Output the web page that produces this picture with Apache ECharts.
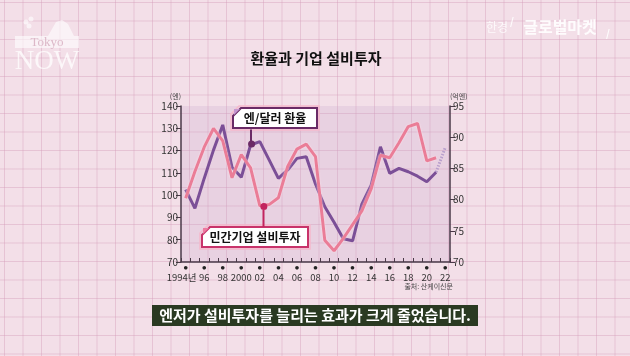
<!DOCTYPE html>
<html>
<head>
<meta charset="utf-8">
<script src="https://cdn.jsdelivr.net/npm/echarts@6/dist/echarts.min.js"></script>
<style>
html,body{margin:0;padding:0;}
body{
  width:630px;height:356px;overflow:hidden;
  background-color:#f3dfe8;
  background-image:
    linear-gradient(to right, rgba(214,160,188,0.45) 1px, transparent 1px),
    linear-gradient(to bottom, rgba(214,160,188,0.45) 1px, transparent 1px);
  background-size:18.5px 18.5px;
  background-position:4px 2px;
}
#c{width:630px;height:356px;}
</style>
</head>
<body>
<div id="c"></div>
<script>
const years = ['1994','1995','1996','1997','1998','1999','2000','2001','2002','2003','2004','2005','2006','2007','2008','2009','2010','2011','2012','2013','2014','2015','2016','2017','2018','2019','2020','2021','2022'];
const yearLabels = {'1994':'1994년','2000':'2000'};
const yenPerDollar = [102.5,94.1,107.5,120.2,131.5,112.5,108.0,122.5,124.0,115.8,107.5,111.3,116.5,117.2,105.0,94.8,87.8,80.4,79.5,96.0,104.5,121.7,109.8,112.0,110.5,108.5,106.0,110.3,null];
const yenProjection = [null,null,null,null,null,null,null,null,null,null,null,null,null,null,null,null,null,null,null,null,null,null,null,null,null,null,null,110.3,121.5];
const investment = [80.2,84.5,88.4,91.4,89.4,83.5,87.2,85.1,79.0,79.2,80.3,85.3,88.1,88.9,86.9,73.5,71.8,73.8,76.0,78.2,81.7,87.1,86.7,89.1,91.7,92.2,86.2,86.7,null];
const leftTicks = {min:70,max:140,interval:10};
const rightTicks = {min:70,max:95,interval:5};

const FONT = '"Noto Sans CJK KR","Noto Sans",sans-serif';
const chart = echarts.init(document.getElementById('c'), null, {renderer:'canvas'});

function box(x,y,w,h,border,accent,label){
  const c = 8;
  return {
    type:'group', z:100,
    children:[
      {type:'polygon', shape:{points:[[x+c-2,y-2],[x+w+2,y-2],[x+w+2,y+h+2],[x-2,y+h+2],[x-2,y+c-2]]},
        style:{fill:'none',stroke:'#f6b9cc',lineWidth:1.5}},
      {type:'polygon', shape:{points:[[x+c,y],[x+w,y],[x+w,y+h],[x,y+h],[x,y+c]]},
        style:{fill:'#ffffff',stroke:border,lineWidth:2}},
      {type:'polygon', shape:{points:[[x+1,y+1],[x+c-1,y+1],[x+1,y+c-1]]},
        style:{fill:accent}},
      {type:'text', x:x+w/2, y:y+h/2+0.5,
        style:{text:label,font:'bold 12px '+FONT,fill:'#111',align:'center',verticalAlign:'middle'}}
    ]
  };
}

const option = {
  backgroundColor:'transparent',
  animation:false,
  grid:{left:181,right:180,top:106,bottom:94,show:true,backgroundColor:'rgba(196,160,200,0.22)',borderWidth:0},
  xAxis:{
    type:'category', data:years, boundaryGap:true,
    axisLine:{lineStyle:{color:'#4a3a48',width:1.5}},
    axisTick:{show:true,inside:true,length:4,interval:0,lineStyle:{color:'#4a3a48',width:1}},
    axisLabel:{
      interval:0, margin:1, fontFamily:FONT, color:'#333', hideOverlap:false, showMinLabel:true, showMaxLabel:true,
      formatter:(v)=>{
        const y = parseInt(v,10);
        if (y % 2 === 1) return '';
        if (v === '1994') return '{d|●}\n{f|1994년}';
        return '{d|●}\n{t|'+(yearLabels[v]||v.slice(2))+'}';
      },
      rich:{
        d:{fontSize:4,lineHeight:8,color:'#222',padding:[2,0,0,0]},
        t:{fontSize:9.5,lineHeight:12,color:'#333',fontFamily:FONT},
        f:{fontSize:9.5,lineHeight:12,color:'#333',fontFamily:FONT,padding:[0,8,0,0]}
      }
    },
    splitLine:{show:false}
  },
  yAxis:[
    {type:'value',min:leftTicks.min,max:leftTicks.max,interval:leftTicks.interval,position:'left',
     name:'(엔)',nameLocation:'end',nameGap:6,nameTextStyle:{fontSize:7,color:'#444',align:'right',fontFamily:FONT},
     axisLine:{show:true,lineStyle:{color:'#4a3a48',width:1.5}},
     axisTick:{show:true,length:5,lineStyle:{color:'#4a3a48'}},
     axisLabel:{fontSize:10,color:'#333',margin:3,fontFamily:FONT},
     splitLine:{show:false}},
    {type:'value',min:rightTicks.min,max:rightTicks.max,interval:rightTicks.interval,position:'right',
     name:'(억엔)',nameLocation:'end',nameGap:6,nameTextStyle:{fontSize:7,color:'#444',align:'left',fontFamily:FONT},
     axisLine:{show:true,lineStyle:{color:'#4a3a48',width:1.5}},
     axisTick:{show:true,length:5,lineStyle:{color:'#4a3a48'}},
     axisLabel:{fontSize:10,color:'#333',margin:3,fontFamily:FONT},
     splitLine:{show:false}}
  ],
  series:[
    {name:'엔/달러 환율',type:'line',yAxisIndex:0,data:yenPerDollar,symbol:'none',
     lineStyle:{color:'#7b4f97',width:3},z:3,
     markPoint:{symbol:'circle',symbolSize:7,itemStyle:{color:'#6a2a66'},label:{show:false},
       data:[{coord:['2001',122.5],symbolOffset:[1,-1]}]},
     markLine:{symbol:'none',silent:true,label:{show:false},lineStyle:{color:'#6a2a66',width:2,type:'solid'},
       data:[[{coord:['2001',122.5]},{coord:['2001',129.5]}]]}},
    {name:'전망',type:'line',yAxisIndex:0,data:yenProjection,symbol:'none',
     lineStyle:{color:'#b89fcc',width:3,type:[1.5,1.5]},z:2},
    {name:'민간기업 설비투자',type:'line',yAxisIndex:1,data:investment,symbol:'none',
     lineStyle:{color:'#ea7d97',width:3,shadowColor:'rgba(255,230,238,0.9)',shadowBlur:2},z:4,
     markPoint:{symbol:'circle',symbolSize:7,itemStyle:{color:'#c2245e'},label:{show:false},
       data:[{coord:['2002',78.9],symbolOffset:[4,0]}]}}
  ],
  graphic:[
    {type:'line',z:50,shape:{x1:263.5,y1:210,x2:263.5,y2:227},style:{stroke:'#c2245e',lineWidth:2}},
    box(233,108,84,20,'#6a2a66','#c596cf','엔/달러 환율'),
    box(202,227,106,20,'#c8336a','#ec7aa0','민간기업 설비투자'),
    {type:'text',x:316,y:58,style:{text:'환율과 기업 설비투자',font:'bold 15px '+FONT,fill:'#111',align:'center',verticalAlign:'middle'}},
    {type:'text',x:453,y:286,style:{text:'출처: 산케이신문',font:'7px '+FONT,fill:'#444',align:'right',verticalAlign:'middle'}},
    {type:'rect',shape:{x:152,y:305,width:326,height:21},style:{fill:'#2a3a22'}},
    {type:'text',x:315,y:315.5,style:{text:'엔저가 설비투자를 늘리는 효과가 크게 줄었습니다.',font:'bold 15px '+FONT,fill:'#ffffff',align:'center',verticalAlign:'middle'}},
    {type:'group',children:[
      {type:'circle',shape:{cx:26,cy:22,r:2.5},style:{fill:'rgba(255,255,255,0.6)'}},
      {type:'circle',shape:{cx:31,cy:19,r:2.5},style:{fill:'rgba(255,255,255,0.6)'}},
      {type:'circle',shape:{cx:29,cy:26,r:2.5},style:{fill:'rgba(255,255,255,0.6)'}},
      {type:'polygon',shape:{points:[[48,36],[56,22],[62,20],[68,24],[74,36]]},style:{fill:'rgba(255,255,255,0.6)'}},
      {type:'rect',shape:{x:15,y:36,width:64,height:12},style:{fill:'rgba(255,255,255,0.6)'}},
      {type:'text',x:47,y:42.5,style:{text:'Tokyo',font:'13px "Liberation Serif",serif',fill:'#dcb8c8',align:'center',verticalAlign:'middle'}},
      {type:'text',x:47,y:62,style:{text:'NOW',font:'27px "Liberation Serif",serif',fill:'rgba(255,255,255,0.75)',align:'center',verticalAlign:'middle'}}
    ]},
    {type:'text',x:497,y:27,style:{text:'한경',font:'12px '+FONT,fill:'rgba(255,255,255,0.8)',align:'center',verticalAlign:'middle'}},
    {type:'text',x:512,y:21,style:{text:'/',font:'bold 10px '+FONT,fill:'rgba(255,255,255,0.9)',align:'center',verticalAlign:'middle'}},
    {type:'text',x:560,y:27,style:{text:'글로벌마켓',font:'bold 16px '+FONT,fill:'rgba(255,255,255,0.9)',align:'center',verticalAlign:'middle'}},
    {type:'text',x:608,y:33,style:{text:'/',font:'bold 10px '+FONT,fill:'rgba(255,255,255,0.9)',align:'center',verticalAlign:'middle'}}
  ]
};
chart.setOption(option);
</script>
</body>
</html>
